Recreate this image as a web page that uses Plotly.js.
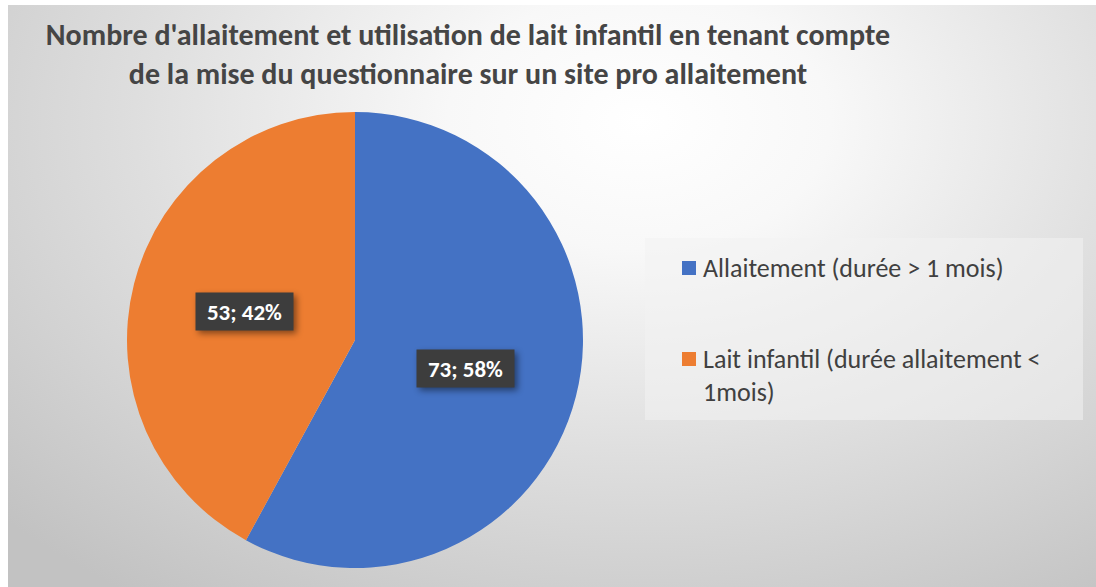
<!DOCTYPE html>
<html><head><meta charset="utf-8">
<script src="https://cdn.plot.ly/plotly-3.0.1.min.js"></script>
<style>
html,body{margin:0;padding:0;background:#fff;}
#chart{position:absolute;left:8px;top:5px;width:1088px;height:582px;
background: radial-gradient(ellipse 80% 100% at 58% 20%, #ffffff 0%, #f8f8f8 22%, #dedede 58%, #c2c2c2 100%);}
.annotation rect.bg{filter: drop-shadow(3px 3px 3px rgba(0,0,0,0.45));}
</style></head>
<body><div id="chart"></div>
<script>
// ---- data ----
const categories = ["Allaitement (durée > 1 mois)", "Lait infantil (durée allaitement < 1mois)"];
const values = [73, 53];
const colors = ["#4472C4", "#ED7D31"];
const titleLines = ["Nombre d'allaitement et utilisation de lait infantil en tenant compte",
                    "de la mise du questionnaire sur un site pro allaitement"];

// ---- geometry (div is 1088 x 582) ----
const W = 1088, H = 582;
const CX = 347, CY = 335, R = 228;   // pie centre / radius in px
const FONT = "Carlito, Lato, sans-serif";

function wrap(s, n) {
  const words = s.split(' '); const lines = []; let cur = '';
  words.forEach(w => {
    if (cur && (cur + ' ' + w).length > n) { lines.push(cur); cur = w; }
    else cur = cur ? cur + ' ' + w : w;
  });
  if (cur) lines.push(cur);
  return lines;
}

const total = values.reduce((a, b) => a + b, 0);
const annotations = [];
const shapes = [];

// data labels at mid-angle of each slice (clockwise from 12 o'clock)
let acc = 0;
values.forEach((v, i) => {
  const mid = (acc + v / 2) / total * 2 * Math.PI;
  acc += v;
  const rr = 0.5 * R;
  const px = CX + rr * Math.sin(mid);
  const py = CY - rr * Math.cos(mid);
  annotations.push({
    xref: 'paper', yref: 'paper', x: px / W, y: 1 - py / H,
    xanchor: 'center', yanchor: 'middle', showarrow: false,
    text: '<b>' + v + '; ' + Math.round(v / total * 100) + '%</b>',
    font: {family: FONT, size: 23, color: '#ffffff'},
    bgcolor: '#3d3d3d', width: 91, height: 31, borderpad: 3
  });
});

// legend box
shapes.push({type: 'rect', xref: 'paper', yref: 'paper', layer: 'below',
  x0: 637 / W, x1: 1075 / W, y0: 1 - 415 / H, y1: 1 - 233 / H,
  fillcolor: 'rgba(242,242,242,0.55)', line: {width: 0}});

// legend entries
const LEG_X = 674, SQ = 14, TXT_X = 693, LINE_H = 33, ITEM_GAP = 58;
let ly = 263;
categories.forEach((c, i) => {
  shapes.push({type: 'rect', xref: 'paper', yref: 'paper',
    x0: LEG_X / W, x1: (LEG_X + SQ) / W,
    y0: 1 - (ly + SQ / 2) / H, y1: 1 - (ly - SQ / 2) / H,
    fillcolor: colors[i], line: {width: 0}});
  const lines = wrap(c, 34);
  lines.forEach((t, k) => {
    annotations.push({xref: 'paper', yref: 'paper', x: TXT_X / W, y: 1 - (ly + k * LINE_H) / H,
      xanchor: 'left', yanchor: 'middle', showarrow: false, text: t,
      font: {family: FONT, size: 26, color: '#404040'}});
  });
  ly += lines.length * LINE_H + ITEM_GAP;
});

const trace = {
  type: 'pie', labels: categories, values: values, sort: false,
  direction: 'clockwise', rotation: 0,
  marker: {colors: colors, line: {width: 0}},
  textinfo: 'none', hoverinfo: 'label+value+percent', showlegend: false,
  domain: {x: [(CX - R) / W, (CX + R) / W], y: [1 - (CY + R) / H, 1 - (CY - R) / H]}
};

const layout = {
  width: W, height: H, margin: {l: 0, r: 0, t: 0, b: 0},
  paper_bgcolor: 'rgba(0,0,0,0)', plot_bgcolor: 'rgba(0,0,0,0)',
  showlegend: false,
  title: {text: titleLines.join('<br>'), x: 460 / W, xanchor: 'center', xref: 'container',
    y: 1 - 40 / H, yanchor: 'top', yref: 'container',
    font: {family: FONT, size: 30, color: '#454545', weight: 'bold'}},
  annotations: annotations, shapes: shapes
};

Plotly.newPlot('chart', [trace], layout, {displayModeBar: false, staticPlot: true});
</script>
</body></html>
